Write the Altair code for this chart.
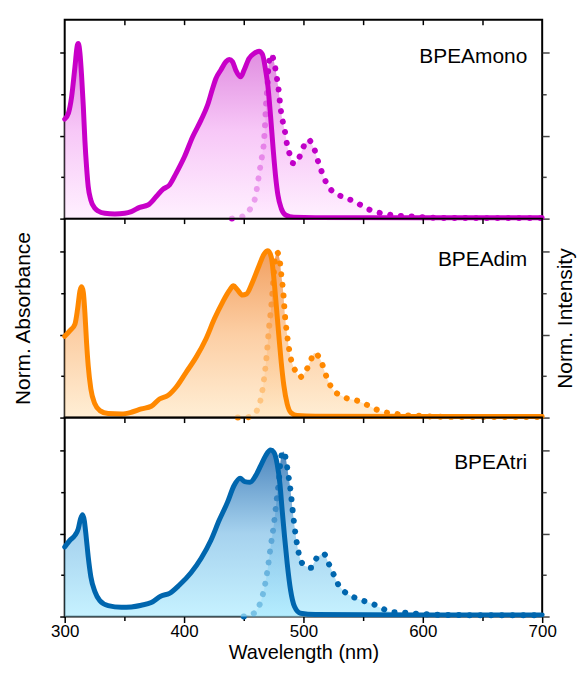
import altair as alt
import pandas as pd

# ---------------- data ----------------
labels = ["BPEAmono", "BPEAdim", "BPEAtri"]

mono_abs_nm = [300, 303.1, 305.8, 308.6, 310.6, 311.4, 312.8, 314.2, 315.6, 316.9,
               318.3, 319.7, 321.9, 325.3, 328, 333.6, 341.9, 350.3, 355.8, 362.8,
               369.7, 376.7, 382.2, 387.8, 393.3, 400.3, 407.2, 414.2, 419.7, 423.9,
               426.7, 430.8, 435, 437.8, 440.6, 443.3, 447.5, 450.3, 454.4, 458.6,
               462.8, 465.6, 468.3, 470.3, 472.5, 474.7, 476.7, 478.6, 481.4, 485,
               492, 510, 600, 700]
mono_abs = [0.60, 0.635, 0.735, 0.916, 1.046, 1.056, 0.996, 0.855, 0.675, 0.474,
            0.313, 0.193, 0.112, 0.062, 0.046, 0.032, 0.028, 0.032, 0.042, 0.068,
            0.082, 0.133, 0.177, 0.203, 0.273, 0.373, 0.494, 0.594, 0.685, 0.785,
            0.845, 0.896, 0.946, 0.96, 0.946, 0.896, 0.855, 0.896, 0.966, 0.996,
            1.01, 0.992, 0.896, 0.795, 0.614, 0.414, 0.253, 0.143, 0.062, 0.022,
            0.008, 0.006, 0.005, 0.005]
mono_em_nm = [440, 446, 451.7, 456.4, 460, 461.4, 462.8, 464.2, 465.6, 466.9,
              467.8, 468.6, 469.7, 470.5, 471.5, 473, 474.7, 476.7, 478.1, 479.4,
              480.3, 481.4, 483.1, 485, 486.4, 489.2, 491, 493, 496.1, 499.7,
              502, 504.6, 507, 509.2, 511.9, 515, 518.3, 522.5, 529.4, 536.4,
              543.5, 552.2, 560, 569.2, 578, 587, 596.2, 606, 620, 650, 700]
mono_em = [0.0, 0.006, 0.026, 0.072, 0.14, 0.2, 0.266, 0.33, 0.39, 0.46,
           0.56, 0.68, 0.79, 0.9, 0.96, 0.99, 0.965, 0.896, 0.832, 0.766,
           0.702, 0.636, 0.572, 0.506, 0.44, 0.376, 0.335, 0.333, 0.363, 0.428,
           0.46, 0.476, 0.45, 0.418, 0.353, 0.289, 0.229, 0.179, 0.143, 0.122,
           0.101, 0.064, 0.042, 0.028, 0.018, 0.014, 0.01, 0.006, 0.004, 0.003, 0.003]

dim_abs_nm = [300, 304.4, 308.6, 310.8, 312.8, 314.2, 315.6, 316.9, 318.3, 319.7,
              321.9, 325.3, 329.4, 336.4, 347.5, 355.8, 364.2, 372.5, 379.4, 386.4,
              393.3, 401.7, 410, 418.3, 425.3, 432.2, 437.8, 441.4, 444.7, 448.9,
              452.2, 457.2, 462.8, 467, 470.3, 473.1, 475.3, 477.5, 479.4, 481.4,
              483.6, 486.4, 489.7, 494.7, 510, 600, 700]
dim_abs = [0.49, 0.524, 0.564, 0.655, 0.765, 0.789, 0.755, 0.635, 0.454, 0.313,
           0.173, 0.082, 0.042, 0.024, 0.022, 0.032, 0.052, 0.068, 0.112, 0.133,
           0.183, 0.273, 0.363, 0.474, 0.594, 0.695, 0.765, 0.795, 0.771, 0.739,
           0.745, 0.815, 0.916, 0.986, 1.006, 0.966, 0.835, 0.655, 0.494, 0.333,
           0.193, 0.082, 0.028, 0.012, 0.008, 0.007, 0.007]
dim_em_nm = [445, 451.7, 458.6, 463.6, 467, 469.2, 471.1, 473.1, 474.7, 476.1,
             478, 480, 481.4, 483.1, 484.4, 486.4, 489.2, 491.9, 494.5, 496.7,
             499.5, 502.2, 505.8, 509.2, 512, 514.7, 517.5, 520.6, 524.7, 531,
             537.6, 545.2, 552.2, 560, 568.3, 575.8, 582.2, 591.1, 600, 608,
             630, 700]
dim_em = [0.0, 0.0, 0.022, 0.092, 0.233, 0.373, 0.534, 0.675, 0.815, 0.956,
          0.996, 0.956, 0.865, 0.755, 0.625, 0.494, 0.363, 0.303, 0.265, 0.243,
          0.255, 0.283, 0.339, 0.39, 0.375, 0.343, 0.283, 0.223, 0.169, 0.134,
          0.113, 0.102, 0.08, 0.052, 0.032, 0.026, 0.016, 0.012, 0.01, 0.006,
          0.004, 0.004]

tri_abs_nm = [300, 304.4, 308.6, 311.4, 313.3, 315, 316.4, 318, 319.7, 321.9,
              325.3, 329.4, 336.4, 347.5, 355.8, 364.2, 372.5, 380.8, 387.8, 396.1,
              405.8, 414.2, 422.5, 429.4, 436.4, 441.9, 446.9, 450.8, 455.3, 460,
              464.2, 468.3, 472.5, 475.3, 478, 480.3, 482.2, 484.2, 486.4, 489.2,
              492.5, 497.5, 510, 600, 700]
tri_abs = [0.42, 0.46, 0.49, 0.53, 0.59, 0.614, 0.58, 0.48, 0.36, 0.24,
           0.15, 0.096, 0.066, 0.056, 0.058, 0.068, 0.084, 0.124, 0.14, 0.19,
           0.264, 0.35, 0.46, 0.58, 0.69, 0.79, 0.834, 0.814, 0.81, 0.85,
           0.91, 0.97, 1.004, 0.99, 0.92, 0.80, 0.64, 0.48, 0.32, 0.16,
           0.06, 0.02, 0.012, 0.01, 0.01]
tri_em_nm = [450, 454.4, 460, 464.2, 467.5, 470.3, 472.5, 475.3, 477.5, 479.4,
             480.8, 483.1, 485, 487.2, 489.2, 491.1, 493.3, 496.1, 500.3, 503.5,
             506.4, 508.5, 510.8, 514, 516.9, 521.1, 525.3, 528.6, 533.6, 541.2,
             549.7, 558, 565.5, 575.3, 584.2, 592.8, 601.7, 615, 650, 700]
tri_em = [0.0, 0.006, 0.03, 0.09, 0.18, 0.30, 0.42, 0.56, 0.70, 0.82,
          0.94, 0.996, 0.96, 0.86, 0.76, 0.63, 0.50, 0.38, 0.31, 0.30,
          0.294, 0.32, 0.35, 0.37, 0.38, 0.32, 0.254, 0.20, 0.155, 0.12,
          0.096, 0.076, 0.05, 0.026, 0.024, 0.018, 0.014, 0.01, 0.008, 0.008]

label_x = [687.5, 687.5, 687.5]
label_y = [0.94, 0.915, 0.89]

x_ticks = [300, 350, 400, 450, 500, 550, 600, 650, 700]
y_ticks = [0, 0.25, 0.5, 0.75, 1.0]

# ---------------- styling ----------------
FONT = "Liberation Sans, Arial, sans-serif"
ALPHA = 0.7
line_colors = ["#C800C8", "#FF8800", "#0066AE"]
dot_colors = ["#C000C8", "#FF8800", "#0066AE"]
fill_looks = [
    [(0.0, "#FFF0FF"), (0.5, "#F7C8F7"), (1.0, "#DE88DE")],
    [(0.0, "#FFEED5"), (0.5, "#FCCFA5"), (1.0, "#F2A060")],
    [(0.0, "#C6F2FF"), (0.5, "#A6D2EE"), (1.0, "#4C86BE")],
]


def under_alpha(hexcol, a):
    vals = [int(hexcol[i:i + 2], 16) for i in (1, 3, 5)]
    out = [max(0, min(255, round((v - (1 - a) * 255) / a))) for v in vals]
    return "#%02x%02x%02x" % tuple(out)


def gradient(stops):
    return alt.Gradient(
        gradient="linear", x1=0, x2=0, y1=1, y2=0,
        stops=[alt.GradientStop(offset=o, color=under_alpha(c, ALPHA)) for o, c in stops],
    )


def panel(i, abs_nm, abs_v, em_nm, em_v, bottom, titles):
    dfa = pd.DataFrame({"nm": abs_nm, "v": abs_v})
    dfe = pd.DataFrame({"nm": em_nm, "v": em_v})
    dft = pd.DataFrame({"nm": [label_x[i]], "v": [label_y[i]], "t": [labels[i]]})
    xs = alt.Scale(domain=[300, 700], nice=False, zero=False)
    ys = alt.Scale(domain=[0, 1.2], nice=False, zero=False)
    fill = gradient(fill_looks[i])

    top_axis = alt.Axis(orient="top", values=x_ticks[1:-1], tickSize=5, offset=-5,
                        labels=False, domain=False, grid=False, title=None,
                        tickColor="#000", tickWidth=1.5)
    bottom_axis = alt.Axis(
        orient="bottom", values=x_ticks, domain=False, grid=False,
        tickSize={"condition": {"test": "datum.value % 100 === 0", "value": 6}, "value": 4},
        tickColor="#000", tickWidth=1.5, labelFlush=False,
        labelExpr="datum.value % 100 === 0 ? datum.label : ''",
        labelFontSize=17, labelColor="#000", labelPadding=1, labelFont=FONT,
        title="Wavelength (nm)", titleFontSize=20, titleFontWeight="normal",
        titleColor="#000", titlePadding=3, titleFont=FONT,
    )
    major = "datum.value === 0 || datum.value === 0.5 || datum.value === 1"
    left_kw = dict(orient="left", values=y_ticks, labels=False, domain=False, grid=False,
                   tickSize={"condition": {"test": major, "value": 5}, "value": 4},
                   tickColor="#000", tickWidth=1.5, minExtent=0)
    right_kw = dict(orient="right", values=y_ticks, labels=False, domain=False, grid=False,
                    tickSize={"condition": {"test": major, "value": 7}, "value": 4},
                    tickColor="#444", tickWidth=1.5, minExtent=0)
    if titles:
        left_axis = alt.Axis(title="Norm. Absorbance", titleFontSize=21, titleFontWeight="normal",
                             titleColor="#000", titlePadding=26, titleFont=FONT, **left_kw)
        right_axis = alt.Axis(title="Norm. Intensity", titleFontSize=21, titleFontWeight="normal",
                              titleColor="#000", titlePadding=5, titleAngle=270,
                              titleBaseline="top", titleFont=FONT, **right_kw)
    else:
        left_axis = alt.Axis(title=None, **left_kw)
        right_axis = alt.Axis(title=None, **right_kw)

    em_area = alt.Chart(dfe).mark_area(fill=fill, fillOpacity=ALPHA, interpolate="monotone").encode(
        x=alt.X("nm:Q", scale=xs, axis=None),
        y=alt.Y("v:Q", scale=ys, axis=right_axis),
    )
    em_line = alt.Chart(dfe).mark_line(
        color=dot_colors[i], strokeWidth=6, strokeDash=[0.1, 10.7], strokeCap="round",
        interpolate="monotone",
    ).encode(
        x=alt.X("nm:Q", scale=xs, axis=None),
        y=alt.Y("v:Q", scale=ys, axis=None),
    )
    ab_area = alt.Chart(dfa).mark_area(fill=fill, fillOpacity=ALPHA, interpolate="monotone").encode(
        x=alt.X("nm:Q", scale=xs, axis=top_axis),
        y=alt.Y("v:Q", scale=ys, axis=left_axis),
    )
    ab_line = alt.Chart(dfa).mark_line(
        color=line_colors[i], strokeWidth=5, strokeJoin="round", strokeCap="round",
        interpolate="monotone",
    ).encode(
        x=alt.X("nm:Q", scale=xs, axis=bottom_axis if bottom else None),
        y=alt.Y("v:Q", scale=ys, axis=None),
    )
    txt = alt.Chart(dft).mark_text(align="right", baseline="alphabetic", fontSize=21,
                                   font=FONT, color="#000").encode(
        x=alt.X("nm:Q", scale=xs, axis=None),
        y=alt.Y("v:Q", scale=ys, axis=None),
        text="t:N",
    )
    return (
        alt.layer(em_area, em_line, ab_area, ab_line, txt)
        .resolve_scale(x="independent", y="independent")
        .resolve_axis(x="independent", y="independent")
        .properties(width=480, height=200,
                    view=alt.ViewBackground(stroke="#000", strokeWidth=2))
    )


p1 = panel(0, mono_abs_nm, mono_abs, mono_em_nm, mono_em, False, False)
p2 = panel(1, dim_abs_nm, dim_abs, dim_em_nm, dim_em, False, True)
p3 = panel(2, tri_abs_nm, tri_abs, tri_em_nm, tri_em, True, False)

chart = (
    alt.vconcat(p1, p2, p3, spacing=0, bounds="flush")
    .properties(padding={"left": 3, "top": 8, "right": 0, "bottom": 0}, background="white")
    .configure(font=FONT)
    .configure_view(stroke="#000", strokeWidth=2)
)

chart.save("out.html", embed_options={"renderer": "svg", "actions": False})
